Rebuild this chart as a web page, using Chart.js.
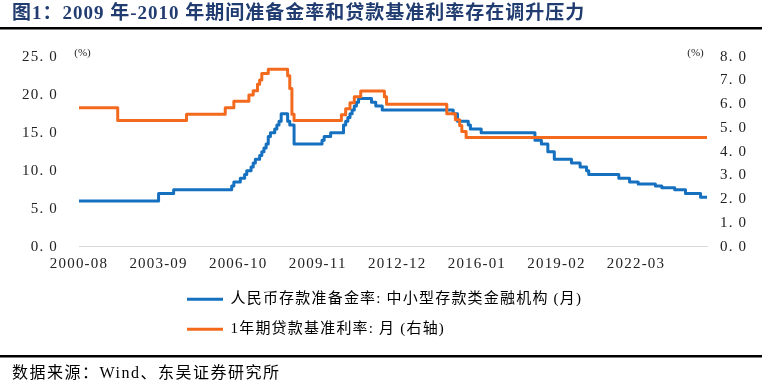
<!DOCTYPE html>
<html>
<head>
<meta charset="utf-8">
<script src="https://cdn.jsdelivr.net/npm/chart.js@4.4.1/dist/chart.umd.min.js"></script>
<style>
  html, body { margin: 0; padding: 0; background: #fff; }
  canvas { display: block; }
</style>
</head>
<body>
<canvas id="rateChart" width="762" height="387"></canvas>
<script>
const titleText = '图1：2009 年-2010 年期间准备金率和贷款基准利率存在调升压力';
const sourceText = '数据来源：Wind、东吴证券研究所';
const seriesNames = ['人民币存款准备金率: 中小型存款类金融机构 (月)', '1年期贷款基准利率: 月 (右轴)'];

// x axis counts months from 2000-08
const tickMonths = [0, 37, 74, 111, 148, 185, 222, 259];
const tickLabels = ['2000-08', '2003-09', '2006-10', '2009-11', '2012-12', '2016-01', '2019-02', '2022-03'];
const endMonth = '2024-12';

// reserve requirement ratio, small & medium institutions (left axis)
const rrrDates = ['2000-08', '2003-09', '2004-04', '2006-07', '2006-08', '2006-11', '2007-01', '2007-02',
    '2007-04', '2007-05', '2007-06', '2007-08', '2007-09', '2007-10', '2007-11', '2007-12', '2008-01',
    '2008-03', '2008-04', '2008-05', '2008-06', '2008-09', '2008-10', '2008-12', '2010-01', '2010-02',
    '2010-05', '2010-11', '2010-12', '2011-01', '2011-02', '2011-03', '2011-04', '2011-05', '2011-06',
    '2011-12', '2012-02', '2012-05', '2015-02', '2015-04', '2015-09', '2015-10', '2016-03', '2018-04',
    '2018-07', '2018-10', '2019-01', '2019-09', '2020-01', '2020-04', '2020-05', '2021-07', '2021-12',
    '2022-04', '2022-12', '2023-03', '2023-09', '2024-02', '2024-09'];
const rrrValues = [6.0, 7.0, 7.5, 8.0, 8.5, 9.0, 9.5, 10.0,
    10.5, 11.0, 11.5, 12.0, 12.5, 13.0, 13.5, 14.5, 15.0,
    15.5, 16.0, 16.5, 17.5, 16.5, 16.0, 13.5, 14.0, 14.5,
    15.0, 16.0, 16.5, 17.0, 17.5, 18.0, 18.5, 19.0, 19.5,
    19.0, 18.5, 18.0, 17.5, 16.5, 16.0, 15.5, 15.0, 14.0,
    13.5, 12.5, 11.5, 11.0, 10.5, 10.0, 9.5, 9.0, 8.5,
    8.25, 8.0, 7.75, 7.5, 7.0, 6.5];

// 1-year benchmark lending rate (right axis)
const loanDates = ['2000-08', '2002-02', '2004-10', '2006-04', '2006-08', '2007-03', '2007-05', '2007-07',
    '2007-08', '2007-09', '2007-12', '2008-09', '2008-10', '2008-11', '2008-12', '2010-10', '2010-12',
    '2011-02', '2011-04', '2011-07', '2012-06', '2012-07', '2014-11', '2015-03', '2015-05', '2015-06',
    '2015-08'];
const loanValues = [5.85, 5.31, 5.58, 5.85, 6.12, 6.39, 6.57, 6.84,
    7.02, 7.29, 7.47, 7.20, 6.66, 5.58, 5.31, 5.56, 5.81,
    6.06, 6.31, 6.56, 6.31, 6.00, 5.60, 5.35, 5.10, 4.85,
    4.60];

function monthIndex(s) {
    const [y, m] = s.split('-').map(Number);
    return (y - 2000) * 12 + (m - 8);
}

function toPoints(dates, values) {
    const pts = dates.map((d, i) => ({ x: monthIndex(d), y: values[i] }));
    pts.push({ x: monthIndex(endMonth), y: values[values.length - 1] });
    return pts;
}

const serif = '"Liberation Serif", "Noto Sans CJK SC"';
const fmtTick = v => v.toFixed(1).replace('.', '. ');

const decorations = {
    id: 'decorations',
    afterLayout(chart) {
        // legend sits under the axis, rows left aligned
        const lg = chart.legend;
        lg.left = 172;
        lg.top = 276.8;
        lg.width = 570;
        lg.height = 80;
        lg.right = lg.left + lg.width;
        lg.bottom = lg.top + lg.height;
    },
    beforeDraw(chart) {
        // the original's song-style font runs wider
        chart.ctx.letterSpacing = '1.2px';
    },
    afterDraw(chart) {
        const ctx = chart.ctx;
        ctx.save();
        ctx.textBaseline = 'alphabetic';
        ctx.fillStyle = '#213c70';
        ctx.letterSpacing = '1px';
        ctx.font = 'bold 19px ' + serif;
        ctx.fillText(titleText, 12, 19);
        ctx.fillStyle = '#000';
        ctx.fillRect(0, 27, 762, 2.5);
        ctx.fillRect(0, 355, 762, 2.5);
        ctx.letterSpacing = '1.5px';
        ctx.font = '16px ' + serif;
        ctx.fillText(sourceText, 12, 378);
        ctx.letterSpacing = '0px';
        ctx.font = '11px ' + serif;
        ctx.textAlign = 'center';
        ctx.fillStyle = '#222';
        ctx.fillText('(%)', 82.5, 56);
        ctx.fillText('(%)', 695.5, 56);
        ctx.restore();
        ctx.letterSpacing = '0px';
    }
};

new Chart(document.getElementById('rateChart'), {
    type: 'line',
    data: {
        datasets: [
            { label: seriesNames[0], data: toPoints(rrrDates, rrrValues), yAxisID: 'y', order: 1,
              borderColor: '#1570bf', backgroundColor: '#1570bf', borderWidth: 3, stepped: true,
              pointRadius: 0, borderJoinStyle: 'round', borderCapStyle: 'round' },
            { label: seriesNames[1], data: toPoints(loanDates, loanValues), yAxisID: 'y1', order: 0,
              borderColor: '#f36a1e', backgroundColor: '#f36a1e', borderWidth: 3, stepped: true,
              pointRadius: 0, borderJoinStyle: 'round', borderCapStyle: 'round' }
        ]
    },
    plugins: [decorations],
    options: {
        responsive: false,
        devicePixelRatio: 1,
        animation: false,
        layout: { padding: { left: 0, right: 0, top: 56.7, bottom: 110.3 } },
        scales: {
            x: {
                type: 'linear', min: 0, max: monthIndex(endMonth),
                grid: { display: false, drawTicks: false },
                border: { display: true, color: '#d9d9d9', width: 1 },
                afterBuildTicks: scale => { scale.ticks = tickMonths.map(v => ({ value: v })); },
                afterFit: scale => { scale.height = 30; },
                ticks: {
                    autoSkip: false, maxRotation: 0, padding: 8, color: '#222',
                    font: { family: serif, size: 15 },
                    callback: v => tickLabels[tickMonths.indexOf(v)]
                }
            },
            y: {
                position: 'left', min: 0, max: 25,
                grid: { display: false, drawTicks: false },
                border: { display: false },
                afterFit: scale => { scale.width = 79; },
                ticks: { stepSize: 5, padding: 21, color: '#222', font: { family: serif, size: 15 }, callback: fmtTick }
            },
            y1: {
                position: 'right', min: 0, max: 8,
                grid: { display: false, drawTicks: false },
                border: { display: false },
                afterFit: scale => { scale.width = 55; },
                ticks: { stepSize: 1, padding: 13, color: '#222', font: { family: serif, size: 15 }, callback: fmtTick }
            }
        },
        plugins: {
            tooltip: { enabled: false },
            legend: {
                position: 'chartArea',
                align: 'start',
                labels: {
                    usePointStyle: true, pointStyle: 'line', pointStyleWidth: 36,
                    padding: 15, color: '#000',
                    font: { family: serif, size: 15 },
                    sort: (a, b) => a.datasetIndex - b.datasetIndex
                }
            }
        }
    }
});
</script>
</body>
</html>
